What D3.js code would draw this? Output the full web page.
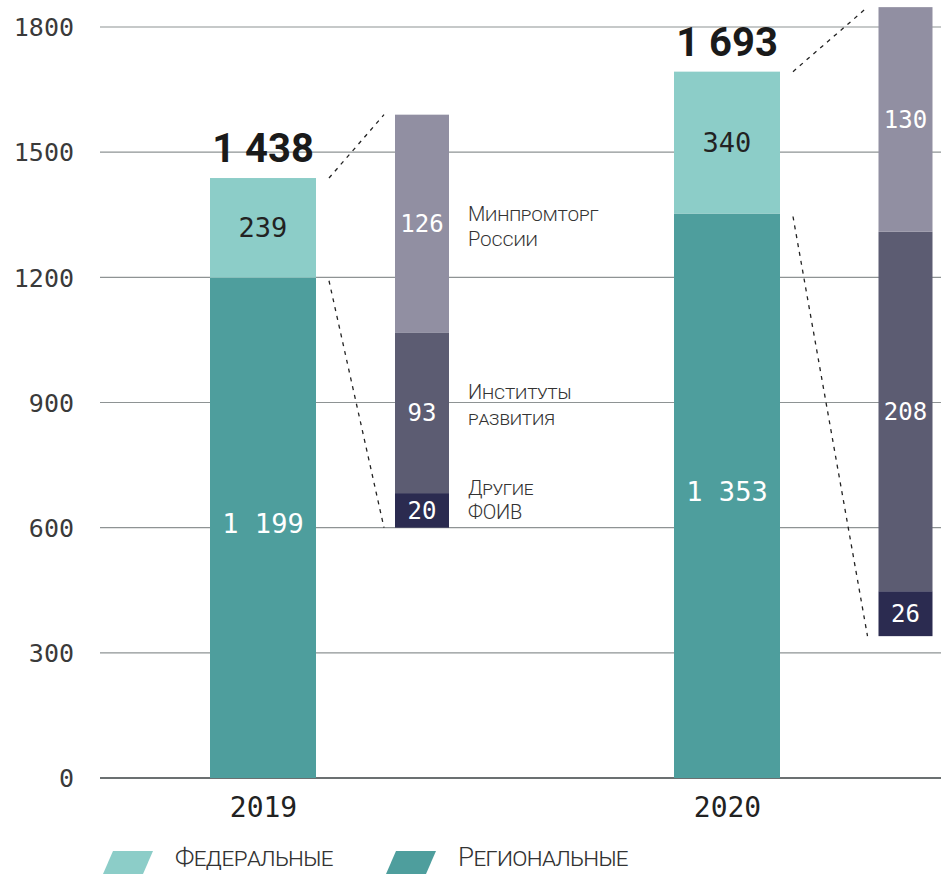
<!DOCTYPE html>
<html><head><meta charset="utf-8">
<script src="https://cdn.jsdelivr.net/npm/d3@7"></script>
<style>
html,body{margin:0;padding:0;background:#fff;}
svg{display:block;}
</style></head>
<body>
<svg id="chart" width="941" height="874"></svg>
<script>
// ---- data ----
const years = ["2019", "2020"];
const regional = [1199, 1353];
const federal = [239, 340];
const totals = [1438, 1693];
const detailCats = ["Другие ФОИВ", "Институты развития", "Минпромторг России"];
const detail2019 = [20, 93, 126];
const detail2020 = [26, 208, 130];
const yTicks = [0, 300, 600, 900, 1200, 1500, 1800];
const legendLabels = ["Федеральные", "Региональные"];

// ---- layout ----
const W = 941, H = 874;
const colFed = "#8ccdc8", colReg = "#4e9e9d";
const detailColors = ["#2b2b50", "#5c5c72", "#918fa2"];
const mono = "'DejaVu Sans Mono', monospace";
const sans = "Roboto, 'Noto Sans', sans-serif";

const svg = d3.select("#chart");
const y = d3.scaleLinear().domain([0, 1800]).range([778, 27]);
const x = d3.scalePoint().domain(years).range([263, 727]);
const barW = 106;
const detailOffset = [159, 178.5];
const detailW = 54;
const detailBase = [600, 340];   // main-scale value where the zoom bar starts
const dLen = d3.scaleLinear().domain([0, 239]).range([0, 413]);
const fmt = d3.formatLocale({decimal: ",", thousands: " ", grouping: [3], currency: ["", ""]}).format(",d");

// grid
const gridG = svg.append("g");
gridG.selectAll("line").data(yTicks).join("line")
  .attr("x1", 100).attr("x2", W)
  .attr("y1", d => y(d)).attr("y2", d => y(d))
  .attr("stroke", d => d === 0 ? "#6b7071" : "#8e9394")
  .attr("stroke-width", d => d === 0 ? 2 : 1.2);

// y axis labels
const yAxis = d3.axisLeft(y).tickValues(yTicks).tickSize(0).tickPadding(0).tickFormat(d3.format("d"));
const ya = svg.append("g").attr("transform", "translate(74,0)").call(yAxis);
ya.select(".domain").remove();
ya.selectAll("text").attr("font-family", mono).attr("font-size", 25).attr("fill", "#3a3a3a").attr("dy", "0.35em");

// x axis labels
const xAxis = d3.axisBottom(x).tickSize(0).tickPadding(0);
const xa = svg.append("g").attr("transform", "translate(0,817)").call(xAxis);
xa.select(".domain").remove();
xa.selectAll("text").attr("font-family", mono).attr("font-size", 28).attr("fill", "#222").attr("dy", 0);

// main stacked bars
const mainData = years.map((yr, i) => ({yr, reg: regional[i], fed: federal[i], tot: totals[i]}));
const bars = svg.append("g");
bars.selectAll("rect.reg").data(mainData).join("rect").attr("class", "reg")
  .attr("x", d => x(d.yr) - barW / 2).attr("width", barW)
  .attr("y", d => y(d.reg)).attr("height", d => y(0) - y(d.reg)).attr("fill", colReg);
bars.selectAll("rect.fed").data(mainData).join("rect").attr("class", "fed")
  .attr("x", d => x(d.yr) - barW / 2).attr("width", barW)
  .attr("y", d => y(d.reg + d.fed)).attr("height", d => y(d.reg) - y(d.reg + d.fed)).attr("fill", colFed);

bars.selectAll("text.regl").data(mainData).join("text").attr("class", "regl")
  .attr("x", d => x(d.yr)).attr("y", d => (y(0) + y(d.reg)) / 2 - 4)
  .attr("text-anchor", "middle").attr("dy", "0.35em")
  .attr("font-family", mono).attr("font-size", 27).attr("fill", "#fff")
  .text(d => fmt(d.reg));
bars.selectAll("text.fedl").data(mainData).join("text").attr("class", "fedl")
  .attr("x", d => x(d.yr)).attr("y", d => (y(d.reg) + y(d.reg + d.fed)) / 2)
  .attr("text-anchor", "middle").attr("dy", "0.35em")
  .attr("font-family", mono).attr("font-size", 27).attr("fill", "#222")
  .text(d => fmt(d.fed));
bars.selectAll("text.tot").data(mainData).join("text").attr("class", "tot")
  .attr("x", d => x(d.yr)).attr("y", d => y(d.tot) - 16)
  .attr("text-anchor", "middle")
  .attr("font-family", sans).attr("font-weight", 700).attr("font-size", 40).attr("fill", "#1a1a1a")
  .text(d => fmt(d.tot));

// detail (zoom) bars
const details = [detail2019, detail2020];
details.forEach((vals, i) => {
  const cx = x(years[i]) + detailOffset[i];
  const baseY = y(detailBase[i]);
  let acc = 0;
  const segs = vals.map((v, j) => { const s = {v, j, y0: acc, y1: acc + v}; acc += v; return s; });
  const g = svg.append("g");
  g.selectAll("rect").data(segs).join("rect")
    .attr("x", cx - detailW / 2).attr("width", detailW)
    .attr("y", d => baseY - dLen(d.y1)).attr("height", d => dLen(d.v))
    .attr("fill", d => detailColors[d.j]);
  g.selectAll("text").data(segs).join("text")
    .attr("x", cx).attr("y", d => baseY - dLen((d.y0 + d.y1) / 2))
    .attr("text-anchor", "middle").attr("dy", "0.35em")
    .attr("font-family", mono).attr("font-size", 24).attr("fill", "#fff")
    .text(d => d.v);

  // connector dashed lines
  const bx = x(years[i]) + barW / 2 + 13;
  const dx = cx - detailW / 2 - 11;
  const lines = [
    [bx, y(totals[i]), dx, baseY - dLen(acc)],
    [bx, y(regional[i]) + 3, dx, baseY]
  ];
  g.selectAll("line").data(lines).join("line")
    .attr("x1", d => d[0]).attr("y1", d => d[1]).attr("x2", d => d[2]).attr("y2", d => d[3])
    .attr("stroke", "#222").attr("stroke-width", 1.3).attr("stroke-dasharray", "4,5");
});

// detail category labels (2019)
const catLabelY = [[495, 519], [399, 425], [221, 246]];
const catG = svg.append("g").attr("font-family", sans).attr("font-weight", 300)
  .attr("font-size", 20).attr("letter-spacing", -0.2).attr("fill", "#333").style("font-variant", "small-caps");
detailCats.forEach((c, j) => {
  const parts = c.split(" ");
  const t = catG.append("text").attr("x", 468);
  parts.forEach((p, k) => {
    t.append("tspan").attr("x", 468).attr("y", catLabelY[j][k]).text(p);
  });
});

// legend
const legCols = [colFed, colReg];
const legX = [103, 386];
const lg = svg.append("g");
legendLabels.forEach((l, i) => {
  const x0 = legX[i];
  lg.append("path")
    .attr("d", `M${x0 + 10},851 L${x0 + 50},851 L${x0 + 40},874 L${x0},874 Z`)
    .attr("fill", legCols[i]);
  lg.append("text").attr("x", x0 + 72).attr("y", 866)
    .attr("font-family", sans).attr("font-weight", 300).attr("font-size", 26).attr("letter-spacing", -0.6)
    .attr("fill", "#333").style("font-variant", "small-caps").text(l);
});
</script>
</body></html>
